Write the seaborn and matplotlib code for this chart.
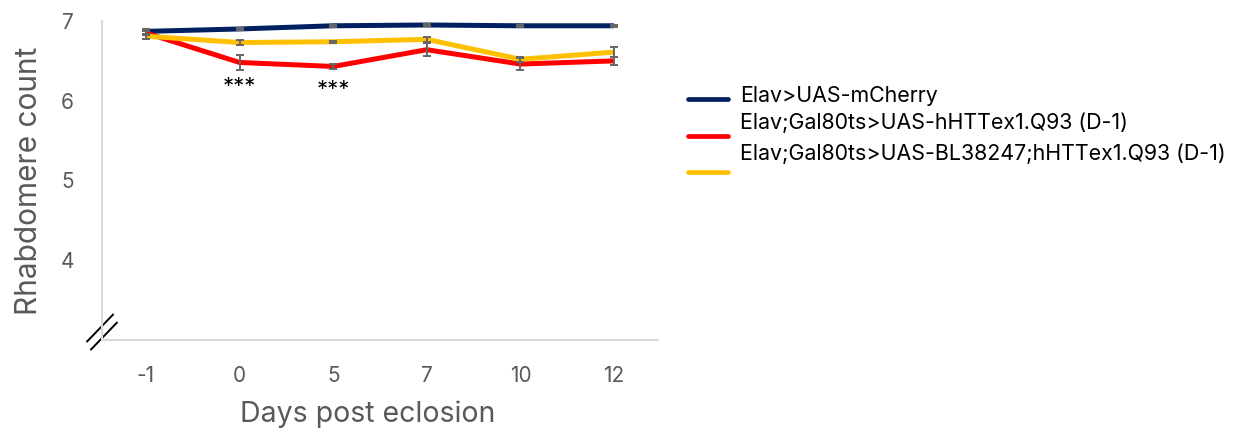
import numpy as np
import pandas as pd
import matplotlib
matplotlib.use("Agg")
import matplotlib.pyplot as plt
from matplotlib.lines import Line2D
import seaborn as sns

# Days post eclosion (categorical axis)
days = ["-1", "0", "5", "7", "10", "12"]

# Mean rhabdomere counts per genotype
mcherry = [6.87, 6.90, 6.94, 6.95, 6.94, 6.94]
htt_q93 = [6.85, 6.48, 6.43, 6.64, 6.46, 6.50]
bl38247_q93 = [6.81, 6.73, 6.74, 6.77, 6.52, 6.61]

# Error (SEM)
mcherry_err = [0.03, 0.01, 0.01, 0.01, 0.01, 0.01]
htt_q93_err = [0.03, 0.09, 0.03, 0.08, 0.08, 0.05]
bl38247_q93_err = [0.03, 0.03, 0.01, 0.03, 0.03, 0.06]

genotypes = [
    "Elav>UAS-mCherry",
    "Elav;Gal80ts>UAS-hHTTex1.Q93 (D-1)",
    "Elav;Gal80ts>UAS-BL38247;hHTTex1.Q93 (D-1)",
]
colors = ["#002060", "#FF0000", "#FFC000"]

# Significance marks
sig_days = ["0", "5"]
sig_y = [6.17, 6.13]
sig_text = "***"

sns.set_theme(style="white")
plt.rcParams["font.family"] = ["Inter", "DejaVu Sans"]

means = [mcherry, htt_q93, bl38247_q93]
errs = [mcherry_err, htt_q93_err, bl38247_q93_err]
pos = np.arange(len(days))

frames = []
for g, m in zip(genotypes, means):
    frames.append(pd.DataFrame({"pos": pos, "count": m, "genotype": g}))
df = pd.concat(frames, ignore_index=True)

fig = plt.figure(figsize=(12.42, 4.30), dpi=100)
W, H = 1242, 430
ax = fig.add_axes([102 / W, (H - 340) / H, (658 - 102) / W, (340 - 21) / H])

for g, m, e, c in zip(genotypes, means, errs, colors):
    ax.errorbar(pos, m, yerr=e, fmt="none", ecolor="#666666",
                elinewidth=1.4, capsize=3.2, capthick=1.4, zorder=3)

sns.lineplot(data=df, x="pos", y="count", hue="genotype", palette=colors,
             hue_order=genotypes, linewidth=3.6, ax=ax, legend=False,
             zorder=2)
for ln in ax.lines:
    ln.set_solid_capstyle("butt")

ax.set_xlim(-0.47, 5.47)
ax.set_ylim(3, 7)
ax.set_xticks(pos)
ax.set_xticklabels(days)
ax.set_yticks([4, 5, 6, 7])
ax.tick_params(axis="both", length=0, labelsize=15, colors="#595959")
ax.tick_params(axis="x", pad=19)
ax.tick_params(axis="y", pad=20)

for s in ["top", "right"]:
    ax.spines[s].set_visible(False)
for s in ["left", "bottom"]:
    ax.spines[s].set_color("#D9D9D9")
    ax.spines[s].set_linewidth(1.5)

ax.set_xlabel("Days post eclosion", fontsize=20.5, color="#595959", labelpad=10)
ax.set_ylabel("Rhabdomere count", fontsize=21.5, color="#595959", labelpad=13)
ax.xaxis.set_label_coords(0.477, -0.19)

for d, y in zip(sig_days, sig_y):
    ax.text(days.index(d), y, sig_text, ha="center", va="center",
            fontsize=16, color="black")

# Axis break mark at the lower-left corner
for dx in (0.0, 0.007):
    ax.plot([-0.027 + dx, 0.020 + dx], [-0.005 - dx * 3.6, 0.08 - dx * 3.6],
            transform=ax.transAxes, color="black", lw=1.4, clip_on=False)

# Legend
leg_line_y = [99, 136, 172]
leg_text_y = [96, 123, 154]
for g, c, ly, ty in zip(genotypes, colors, leg_line_y, leg_text_y):
    fig.add_artist(Line2D([688 / W, 728 / W], [1 - ly / H, 1 - ly / H],
                          color=c, lw=3.4, solid_capstyle="round"))
    fig.text(740 / W, 1 - ty / H, g, ha="left", va="center",
             fontsize=15.4, color="black")

fig.savefig("out.png", dpi=100)
